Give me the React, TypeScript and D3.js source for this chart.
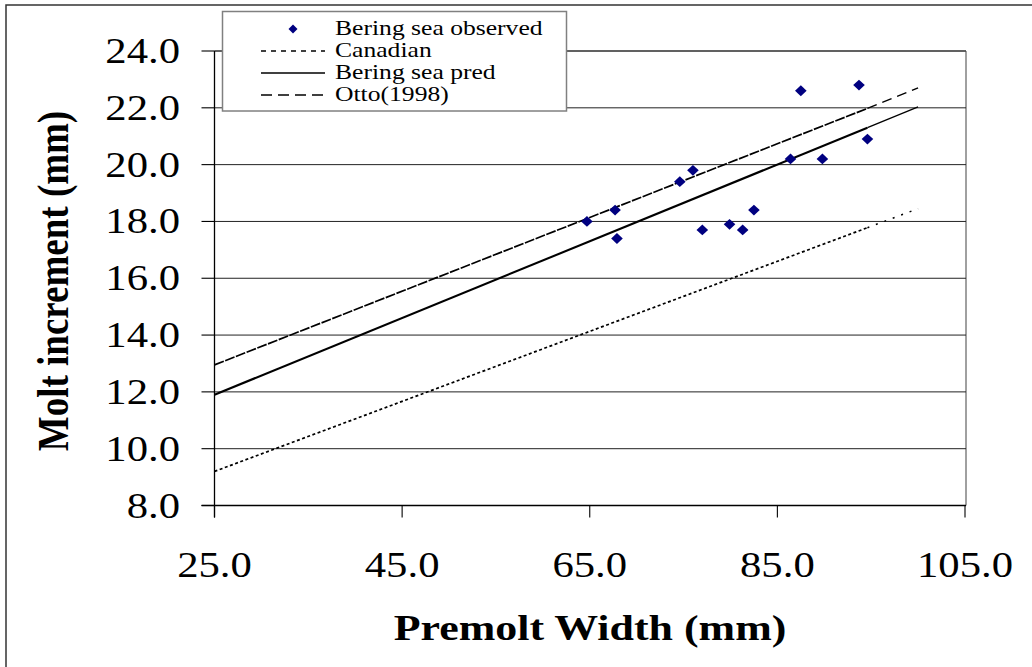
import React from "react";
import * as d3 from "d3";

// ---- data ----
const obsX = [64.7, 67.7, 67.9, 74.6, 76.0, 77.0, 79.9, 81.3, 82.5, 86.4, 87.5, 89.8, 93.7, 94.6];
const obsY = [18.0, 18.4, 17.4, 19.4, 19.8, 17.7, 17.9, 17.7, 18.4, 20.2, 22.6, 20.2, 22.8, 20.9];

const lineX = [25, 94.6, 100];
const canadianY = [9.2, 17.78, 18.45];
const beringPredY = [11.9, 21.3, 22.03];
const ottoY = [12.95, 21.98, 22.7];

const xTicks = [25, 45, 65, 85, 105];
const yTicks = [8, 10, 12, 14, 16, 18, 20, 22, 24];

const legendLabels = ["Bering sea observed", "Canadian", "Bering sea pred", "Otto(1998)"];

// ---- layout ----
const W = 1032;
const H = 667;
const plot = { left: 214.5, right: 966, top: 51, bottom: 505.5 };
const SX = 1.22; // horizontal text stretch
const FONT = "'Liberation Serif', 'Times New Roman', serif";

const x = d3.scaleLinear().domain([25, 105]).range([plot.left, plot.left + 750.5]);
const y = d3.scaleLinear().domain([8, 24]).range([plot.bottom, plot.top]);

function T({ x: tx, y: ty, size, anchor = "start", bold = false, rotate = 0, children }: any) {
  return (
    <text
      transform={`translate(${tx},${ty}) scale(${SX},1)${rotate ? ` rotate(${rotate})` : ""}`}
      textAnchor={anchor}
      fontFamily={FONT}
      fontSize={size}
      fontWeight={bold ? "bold" : "normal"}
      fill="#000"
    >
      {children}
    </text>
  );
}

function seg(ys: number[], i0: number, i1: number) {
  const pts: [number, number][] = [];
  for (let i = i0; i <= i1; i++) pts.push([x(lineX[i]), y(ys[i])]);
  return d3.line()(pts) || "";
}

const diamond = (cx: number, cy: number, rx: number, ry: number) =>
  `M${cx},${cy - ry}L${cx + rx},${cy}L${cx},${cy + ry}L${cx - rx},${cy}Z`;

export default function App() {
  const gridTicks = yTicks.filter((t) => t > 8);
  return (
    <svg
      width={W}
      height={H}
      style={{ position: "absolute", left: 0, top: 0, background: "#fff" }}
    >
      <rect x={0} y={0} width={W} height={H} fill="#fff" />
      {/* outer chart frame */}
      <rect x={6} y={5} width={W + 20} height={H + 20} fill="none" stroke="#333" strokeWidth={1.5} />

      {/* plot border (top/right) */}
      <line x1={plot.left} x2={plot.right} y1={plot.top} y2={plot.top} stroke="#808080" strokeWidth={1.5} />
      <line x1={plot.right} x2={plot.right} y1={plot.top} y2={plot.bottom} stroke="#808080" strokeWidth={1.5} />

      {/* gridlines */}
      {gridTicks.map((t) => (
        <line key={"g" + t} x1={plot.left} x2={plot.right} y1={y(t)} y2={y(t)} stroke="#222" strokeWidth={1} />
      ))}

      {/* axes */}
      <line x1={plot.left} x2={plot.left} y1={plot.top} y2={plot.bottom + 12} stroke="#000" strokeWidth={1.3} />
      <line x1={plot.left - 13} x2={plot.right} y1={plot.bottom} y2={plot.bottom} stroke="#000" strokeWidth={1.3} />
      {yTicks.map((t) => (
        <g key={"yt" + t}>
          <line x1={plot.left - 13} x2={plot.left} y1={y(t)} y2={y(t)} stroke="#000" strokeWidth={1.1} />
          <T x={180} y={y(t) + 12} size={35} anchor="end">
            {t.toFixed(1)}
          </T>
        </g>
      ))}
      {xTicks.map((t) => (
        <g key={"xt" + t}>
          <line x1={x(t)} x2={x(t)} y1={plot.bottom} y2={plot.bottom + 12} stroke="#000" strokeWidth={1.1} />
          <T x={x(t)} y={576.5} size={35} anchor="middle">
            {t.toFixed(1)}
          </T>
        </g>
      ))}

      {/* axis titles */}
      <T x={590} y={640} size={36} anchor="middle" bold>
        Premolt Width (mm)
      </T>
      <T x={68} y={281} size={37} anchor="middle" bold rotate={-90}>
        Molt increment (mm)
      </T>

      {/* lines */}
      <g fill="none" stroke="#000">
        {/* Canadian */}
        <path d={seg(canadianY, 0, 1)} strokeWidth={1.7} strokeDasharray="3,2.5" />
        <path d={seg(canadianY, 1, 2)} strokeWidth={1.5} strokeDasharray="2,7" />
        {/* Bering sea pred */}
        <path d={seg(beringPredY, 0, 1)} strokeWidth={2.1} />
        <path d={seg(beringPredY, 1, 2)} strokeWidth={1.3} />
        {/* Otto */}
        <path d={seg(ottoY, 0, 1)} strokeWidth={1.7} strokeDasharray="10,1.5" />
        <path d={seg(ottoY, 1, 2)} strokeWidth={1.4} strokeDasharray="10,6" />
      </g>

      {/* observed points */}
      {obsX.map((v, i) => (
        <path key={"p" + i} d={diamond(x(v), y(obsY[i]), 5.8, 5.4)} fill="#000080" />
      ))}

      {/* legend */}
      <rect x={222.5} y={11.5} width={344} height={99.5} fill="#fff" stroke="#808080" strokeWidth={1.5} />
      {legendLabels.map((lab, i) => {
        const by = 35 + i * 22;
        const ly = by - 6;
        return (
          <g key={"lg" + i}>
            {i === 0 && <path d={diamond(293, ly, 4.5, 4.5)} fill="#000080" />}
            {i === 1 && (
              <line x1={261} x2={325} y1={ly} y2={ly} stroke="#000" strokeWidth={1.5} strokeDasharray="5,5" />
            )}
            {i === 2 && <line x1={261} x2={325} y1={ly} y2={ly} stroke="#000" strokeWidth={1.3} />}
            {i === 3 && (
              <line x1={261} x2={325} y1={ly} y2={ly} stroke="#000" strokeWidth={1.5} strokeDasharray="11,6" />
            )}
            <T x={335} y={by} size={21}>
              {lab}
            </T>
          </g>
        );
      })}
    </svg>
  );
}
